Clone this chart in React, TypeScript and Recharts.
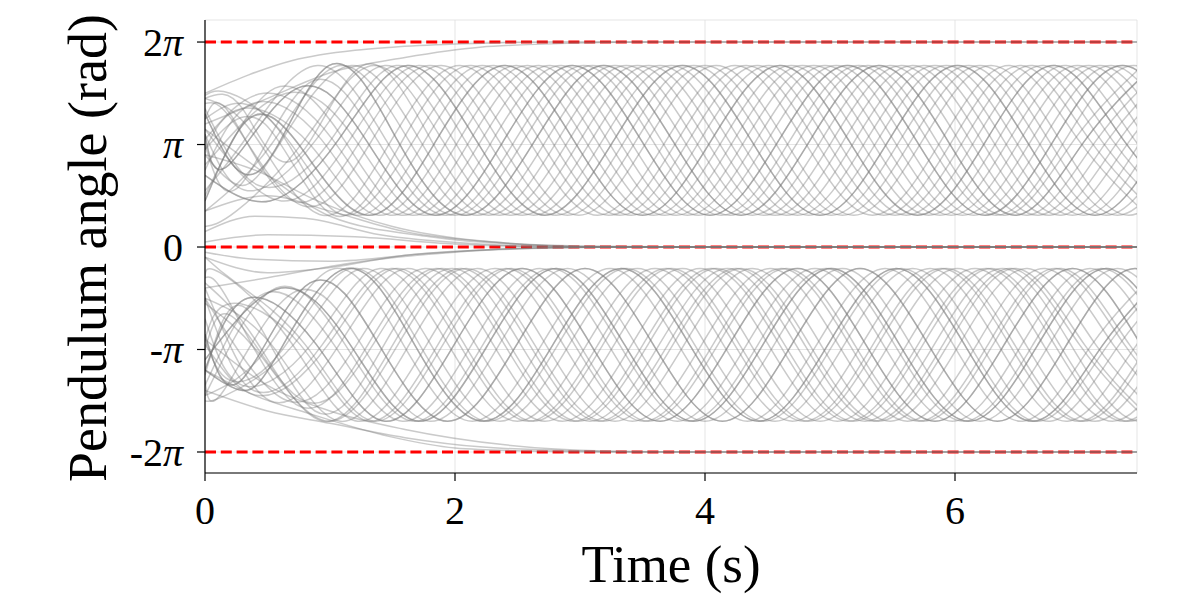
import React from 'react';
import { LineChart, Line, XAxis, YAxis, CartesianGrid } from 'recharts';

type Pt = [number, number];

// Time axis (s) and angle axis (units of π)
const X_TICKS = [0, 2, 4, 6];
const Y_TICKS = [-2, -1, 0, 1, 2];
const Y_TICK_LABELS = ['-2π', '-π', '0', 'π', '2π'];
const X_DOMAIN: [number, number] = [0, 7.456];
const Y_DOMAIN: [number, number] = [-2.205, 2.215];
const LEVELS = [2, 0, -2];
const LEVEL_T = [0, 7.6];

// Upper band trajectories (oscillating around π)
const U01: Pt[] = [[0,0.55],[0.35,1.1],[0.90,1.77],[1.45,1.04],[2.00,0.31],[2.55,1.04],[3.10,1.77],[3.65,1.04],[4.20,0.31],[4.75,1.04],[5.30,1.77],[5.85,1.04],[6.40,0.31],[6.95,1.04],[7.50,1.77]];
const U02: Pt[] = [[0,1.45],[0.39,1.1],[0.94,0.31],[1.49,1.04],[2.04,1.77],[2.59,1.04],[3.14,0.31],[3.69,1.04],[4.24,1.77],[4.79,1.04],[5.34,0.31],[5.89,1.04],[6.44,1.77],[6.99,1.04],[7.54,0.31]];
const U03: Pt[] = [[0,1.3],[0.44,0.75],[0.99,1.77],[1.54,1.04],[2.09,0.31],[2.64,1.04],[3.19,1.77],[3.74,1.04],[4.29,0.31],[4.84,1.04],[5.39,1.77],[5.94,1.04],[6.49,0.31],[7.04,1.04],[7.59,1.77]];
const U04: Pt[] = [[0,0.95],[0.48,1.2],[1.03,0.31],[1.58,1.04],[2.13,1.77],[2.68,1.04],[3.23,0.31],[3.78,1.04],[4.33,1.77],[4.88,1.04],[5.43,0.31],[5.98,1.04],[6.53,1.77],[7.08,1.04],[7.63,0.31]];
const U05: Pt[] = [[0,0.35],[0.53,1.0],[1.08,1.77],[1.63,1.04],[2.18,0.31],[2.73,1.04],[3.28,1.77],[3.83,1.04],[4.38,0.31],[4.93,1.04],[5.48,1.77],[6.03,1.04],[6.58,0.31],[7.13,1.04],[7.68,1.77]];
const U06: Pt[] = [[0,1.25],[0.3,1.4],[0.67,1.0],[1.12,0.31],[1.67,1.04],[2.22,1.77],[2.77,1.04],[3.32,0.31],[3.87,1.04],[4.42,1.77],[4.97,1.04],[5.52,0.31],[6.07,1.04],[6.62,1.77],[7.17,1.04],[7.72,0.31]];
const U07: Pt[] = [[0,0.9],[0.3,0.6],[0.62,1.05],[1.17,1.77],[1.72,1.04],[2.27,0.31],[2.82,1.04],[3.37,1.77],[3.92,1.04],[4.47,0.31],[5.02,1.04],[5.57,1.77],[6.12,1.04],[6.67,0.31],[7.22,1.04],[7.77,1.77]];
const U08: Pt[] = [[0,1.48],[0.2,1.5],[0.66,1.05],[1.21,0.31],[1.76,1.04],[2.31,1.77],[2.86,1.04],[3.41,0.31],[3.96,1.04],[4.51,1.77],[5.06,1.04],[5.61,0.31],[6.16,1.04],[6.71,1.77],[7.26,1.04],[7.81,0.31]];
const U09: Pt[] = [[0,1.45],[0.3,1.35],[0.71,0.85],[1.26,1.77],[1.81,1.04],[2.36,0.31],[2.91,1.04],[3.46,1.77],[4.01,1.04],[4.56,0.31],[5.11,1.04],[5.66,1.77],[6.21,1.04],[6.76,0.31],[7.31,1.04],[7.86,1.77]];
const U10: Pt[] = [[0,0.45],[0.35,1.25],[0.75,1.0],[1.30,0.31],[1.85,1.04],[2.40,1.77],[2.95,1.04],[3.50,0.31],[4.05,1.04],[4.60,1.77],[5.15,1.04],[5.70,0.31],[6.25,1.04],[6.80,1.77],[7.35,1.04],[7.90,0.31]];
const U11: Pt[] = [[0,0.2],[0.25,0.35],[0.8,1.05],[1.35,1.77],[1.90,1.04],[2.45,0.31],[3.00,1.04],[3.55,1.77],[4.10,1.04],[4.65,0.31],[5.20,1.04],[5.75,1.77],[6.30,1.04],[6.85,0.31],[7.40,1.04],[7.95,1.77]];
const U12: Pt[] = [[0,0.95],[0.29,1.35],[0.84,1.0],[1.39,0.31],[1.94,1.04],[2.49,1.77],[3.04,1.04],[3.59,0.31],[4.14,1.04],[4.69,1.77],[5.24,1.04],[5.79,0.31],[6.34,1.04],[6.89,1.77],[7.44,1.04],[7.99,0.31]];
const U13: Pt[] = [[0,1.1],[0.34,0.55],[0.89,1.05],[1.44,1.77],[1.99,1.04],[2.54,0.31],[3.09,1.04],[3.64,1.77],[4.19,1.04],[4.74,0.31],[5.29,1.04],[5.84,1.77],[6.39,1.04],[6.94,0.31],[7.49,1.04]];
const U14: Pt[] = [[0,0.75],[0.38,1.4],[0.93,1.05],[1.48,0.31],[2.03,1.04],[2.58,1.77],[3.13,1.04],[3.68,0.31],[4.23,1.04],[4.78,1.77],[5.33,1.04],[5.88,0.31],[6.43,1.04],[6.98,1.77],[7.53,1.04]];
const U15: Pt[] = [[0,1.35],[0.43,0.6],[0.98,1.0],[1.53,1.77],[2.08,1.04],[2.63,0.31],[3.18,1.04],[3.73,1.77],[4.28,1.04],[4.83,0.31],[5.38,1.04],[5.93,1.77],[6.48,1.04],[7.03,0.31],[7.58,1.04]];
const U16: Pt[] = [[0,1.05],[0.47,1.5],[1.02,1.05],[1.57,0.31],[2.12,1.04],[2.67,1.77],[3.22,1.04],[3.77,0.31],[4.32,1.04],[4.87,1.77],[5.42,1.04],[5.97,0.31],[6.52,1.04],[7.07,1.77],[7.62,1.04]];
const U17: Pt[] = [[0,0.7],[0.52,0.45],[1.07,1.05],[1.62,1.77],[2.17,1.04],[2.72,0.31],[3.27,1.04],[3.82,1.77],[4.37,1.04],[4.92,0.31],[5.47,1.04],[6.02,1.77],[6.57,1.04],[7.12,0.31],[7.67,1.04]];
const U18: Pt[] = [[0,0.5],[0.56,1.55],[1.11,1.05],[1.66,0.31],[2.21,1.04],[2.76,1.77],[3.31,1.04],[3.86,0.31],[4.41,1.04],[4.96,1.77],[5.51,1.04],[6.06,0.31],[6.61,1.04],[7.16,1.77],[7.71,1.04]];
const U19: Pt[] = [[0,1.15],[0.61,0.45],[1.16,1.05],[1.71,1.77],[2.26,1.04],[2.81,0.31],[3.36,1.04],[3.91,1.77],[4.46,1.04],[5.01,0.31],[5.56,1.04],[6.11,1.77],[6.66,1.04],[7.21,0.31],[7.76,1.04]];
const U20: Pt[] = [[0,0.8],[0.65,1.5],[1.2,1.05],[1.75,0.31],[2.30,1.04],[2.85,1.77],[3.40,1.04],[3.95,0.31],[4.50,1.04],[5.05,1.77],[5.60,1.04],[6.15,0.31],[6.70,1.04],[7.25,1.77],[7.80,1.04]];
const U21: Pt[] = [[0,1.25],[0.2,1.3],[0.7,0.45],[1.25,1.05],[1.80,1.77],[2.35,1.04],[2.90,0.31],[3.45,1.04],[4.00,1.77],[4.55,1.04],[5.10,0.31],[5.65,1.04],[6.20,1.77],[6.75,1.04],[7.30,0.31],[7.85,1.04]];
const U22: Pt[] = [[0,1.1],[0.19,0.8],[0.74,1.55],[1.29,1.04],[1.84,0.31],[2.39,1.04],[2.94,1.77],[3.49,1.04],[4.04,0.31],[4.59,1.04],[5.14,1.77],[5.69,1.04],[6.24,0.31],[6.79,1.04],[7.34,1.77],[7.89,1.04]];
const U23: Pt[] = [[0,1.4],[0.24,1.2],[0.79,0.4],[1.34,1.05],[1.89,1.77],[2.44,1.04],[2.99,0.31],[3.54,1.04],[4.09,1.77],[4.64,1.04],[5.19,0.31],[5.74,1.04],[6.29,1.77],[6.84,1.04],[7.39,0.31],[7.94,1.04]];
const U24: Pt[] = [[0,1.0],[0.28,0.6],[0.83,1.6],[1.38,1.04],[1.93,0.31],[2.48,1.04],[3.03,1.77],[3.58,1.04],[4.13,0.31],[4.68,1.04],[5.23,1.77],[5.78,1.04],[6.33,0.31],[6.88,1.04],[7.43,1.77],[7.98,1.04]];

// Lower band trajectories (oscillating around -π)
const L01: Pt[] = [[0,-0.35],[0.40,-0.9],[0.95,-1.70],[1.50,-0.96],[2.05,-0.21],[2.60,-0.96],[3.15,-1.70],[3.70,-0.96],[4.25,-0.21],[4.80,-0.96],[5.35,-1.70],[5.90,-0.96],[6.45,-0.21],[7.00,-0.96],[7.55,-1.70]];
const L02: Pt[] = [[0,-0.55],[0.44,-1.05],[0.99,-1.70],[1.54,-0.96],[2.09,-0.21],[2.64,-0.96],[3.19,-1.70],[3.74,-0.96],[4.29,-0.21],[4.84,-0.96],[5.39,-1.70],[5.94,-0.96],[6.49,-0.21],[7.04,-0.96],[7.59,-1.70]];
const L03: Pt[] = [[0,-1.45],[0.49,-1.0],[1.04,-0.21],[1.59,-0.96],[2.14,-1.70],[2.69,-0.96],[3.24,-0.21],[3.79,-0.96],[4.34,-1.70],[4.89,-0.96],[5.44,-0.21],[5.99,-0.96],[6.54,-1.70],[7.09,-0.96],[7.64,-0.21]];
const L04: Pt[] = [[0,-0.5],[0.53,-0.95],[1.08,-1.70],[1.63,-0.96],[2.18,-0.21],[2.73,-0.96],[3.28,-1.70],[3.83,-0.96],[4.38,-0.21],[4.93,-0.96],[5.48,-1.70],[6.03,-0.96],[6.58,-0.21],[7.13,-0.96],[7.68,-1.70]];
const L05: Pt[] = [[0,-1.2],[0.3,-1.4],[0.58,-1.05],[1.13,-0.21],[1.68,-0.96],[2.23,-1.70],[2.78,-0.96],[3.33,-0.21],[3.88,-0.96],[4.43,-1.70],[4.98,-0.96],[5.53,-0.21],[6.08,-0.96],[6.63,-1.70],[7.18,-0.96],[7.73,-0.21]];
const L06: Pt[] = [[0,-0.9],[0.2,-1.3],[0.62,-1.0],[1.17,-0.21],[1.72,-0.96],[2.27,-1.70],[2.82,-0.96],[3.37,-0.21],[3.92,-0.96],[4.47,-1.70],[5.02,-0.96],[5.57,-0.21],[6.12,-0.96],[6.67,-1.70],[7.22,-0.96],[7.77,-0.21]];
const L07: Pt[] = [[0,-0.3],[0.12,-0.25],[0.67,-0.9],[1.22,-1.70],[1.77,-0.96],[2.32,-0.21],[2.87,-0.96],[3.42,-1.70],[3.97,-0.96],[4.52,-0.21],[5.07,-0.96],[5.62,-1.70],[6.17,-0.96],[6.72,-0.21],[7.27,-0.96],[7.82,-1.70]];
const L08: Pt[] = [[0,-1.5],[0.16,-1.45],[0.71,-0.95],[1.26,-0.21],[1.81,-0.96],[2.36,-1.70],[2.91,-0.96],[3.46,-0.21],[4.01,-0.96],[4.56,-1.70],[5.11,-0.96],[5.66,-0.21],[6.21,-0.96],[6.76,-1.70],[7.31,-0.96],[7.86,-0.21]];
const L09: Pt[] = [[0,-0.9],[0.21,-0.55],[0.76,-0.95],[1.31,-1.70],[1.86,-0.96],[2.41,-0.21],[2.96,-0.96],[3.51,-1.70],[4.06,-0.96],[4.61,-0.21],[5.16,-0.96],[5.71,-1.70],[6.26,-0.96],[6.81,-0.21],[7.36,-0.96],[7.91,-1.70]];
const L10: Pt[] = [[0,-0.1],[0.25,-0.35],[0.80,-0.95],[1.35,-1.70],[1.90,-0.96],[2.45,-0.21],[3.00,-0.96],[3.55,-1.70],[4.10,-0.96],[4.65,-0.21],[5.20,-0.96],[5.75,-1.70],[6.30,-0.96],[6.85,-0.21],[7.40,-0.96],[7.95,-1.70]];
const L11: Pt[] = [[0,-0.7],[0.30,-1.35],[0.85,-0.95],[1.40,-0.21],[1.95,-0.96],[2.50,-1.70],[3.05,-0.96],[3.60,-0.21],[4.15,-0.96],[4.70,-1.70],[5.25,-0.96],[5.80,-0.21],[6.35,-0.96],[6.90,-1.70],[7.45,-0.96],[8.00,-0.21]];
const L12: Pt[] = [[0,-1.2],[0.34,-0.5],[0.89,-0.95],[1.44,-1.70],[1.99,-0.96],[2.54,-0.21],[3.09,-0.96],[3.64,-1.70],[4.19,-0.96],[4.74,-0.21],[5.29,-0.96],[5.84,-1.70],[6.39,-0.96],[6.94,-0.21],[7.49,-0.96]];
const L13: Pt[] = [[0,-0.5],[0.39,-1.4],[0.94,-0.95],[1.49,-0.21],[2.04,-0.96],[2.59,-1.70],[3.14,-0.96],[3.69,-0.21],[4.24,-0.96],[4.79,-1.70],[5.34,-0.96],[5.89,-0.21],[6.44,-0.96],[6.99,-1.70],[7.54,-0.96]];
const L14: Pt[] = [[0,-0.95],[0.43,-1.45],[0.98,-0.96],[1.53,-0.21],[2.08,-0.96],[2.63,-1.70],[3.18,-0.96],[3.73,-0.21],[4.28,-0.96],[4.83,-1.70],[5.38,-0.96],[5.93,-0.21],[6.48,-0.96],[7.03,-1.70],[7.58,-0.96]];
const L15: Pt[] = [[0,-1.35],[0.48,-0.45],[1.03,-0.95],[1.58,-1.70],[2.13,-0.96],[2.68,-0.21],[3.23,-0.96],[3.78,-1.70],[4.33,-0.96],[4.88,-0.21],[5.43,-0.96],[5.98,-1.70],[6.53,-0.96],[7.08,-0.21],[7.63,-0.96]];
const L16: Pt[] = [[0,-0.4],[0.52,-1.5],[1.07,-0.96],[1.62,-0.21],[2.17,-0.96],[2.72,-1.70],[3.27,-0.96],[3.82,-0.21],[4.37,-0.96],[4.92,-1.70],[5.47,-0.96],[6.02,-0.21],[6.57,-0.96],[7.12,-1.70],[7.67,-0.96]];
const L17: Pt[] = [[0,-1.45],[0.57,-0.4],[1.12,-0.95],[1.67,-1.70],[2.22,-0.96],[2.77,-0.21],[3.32,-0.96],[3.87,-1.70],[4.42,-0.96],[4.97,-0.21],[5.52,-0.96],[6.07,-1.70],[6.62,-0.96],[7.17,-0.21],[7.72,-0.96]];
const L18: Pt[] = [[0,-1.1],[0.61,-0.4],[1.16,-0.95],[1.71,-1.70],[2.26,-0.96],[2.81,-0.21],[3.36,-0.96],[3.91,-1.70],[4.46,-0.96],[5.01,-0.21],[5.56,-0.96],[6.11,-1.70],[6.66,-0.96],[7.21,-0.21],[7.76,-0.96]];
const L19: Pt[] = [[0,-0.5],[0.66,-1.5],[1.21,-0.96],[1.76,-0.21],[2.31,-0.96],[2.86,-1.70],[3.41,-0.96],[3.96,-0.21],[4.51,-0.96],[5.06,-1.70],[5.61,-0.96],[6.16,-0.21],[6.71,-0.96],[7.26,-1.70],[7.81,-0.96]];
const L20: Pt[] = [[0,-1.3],[0.15,-1.4],[0.70,-0.45],[1.25,-0.95],[1.80,-1.70],[2.35,-0.96],[2.90,-0.21],[3.45,-0.96],[4.00,-1.70],[4.55,-0.96],[5.10,-0.21],[5.65,-0.96],[6.20,-1.70],[6.75,-0.96],[7.30,-0.21],[7.85,-0.96]];
const L21: Pt[] = [[0,-0.3],[0.20,-0.55],[0.75,-1.55],[1.30,-0.96],[1.85,-0.21],[2.40,-0.96],[2.95,-1.70],[3.50,-0.96],[4.05,-0.21],[4.60,-0.96],[5.15,-1.70],[5.70,-0.96],[6.25,-0.21],[6.80,-0.96],[7.35,-1.70],[7.90,-0.96]];
const L22: Pt[] = [[0,-1.0],[0.24,-0.7],[0.79,-1.5],[1.34,-0.96],[1.89,-0.21],[2.44,-0.96],[2.99,-1.70],[3.54,-0.96],[4.09,-0.21],[4.64,-0.96],[5.19,-1.70],[5.74,-0.96],[6.29,-0.21],[6.84,-0.96],[7.39,-1.70],[7.94,-0.96]];
const L23: Pt[] = [[0,-0.85],[0.29,-1.3],[0.84,-0.35],[1.39,-0.95],[1.94,-1.70],[2.49,-0.96],[3.04,-0.21],[3.59,-0.96],[4.14,-1.70],[4.69,-0.96],[5.24,-0.21],[5.79,-0.96],[6.34,-1.70],[6.89,-0.96],[7.44,-0.21],[7.99,-0.96]];
const L24: Pt[] = [[0,-1.25],[0.33,-0.6],[0.88,-1.6],[1.43,-0.96],[1.98,-0.21],[2.53,-0.96],[3.08,-1.70],[3.63,-0.96],[4.18,-0.21],[4.73,-0.96],[5.28,-1.70],[5.83,-0.96],[6.38,-0.21],[6.93,-0.96],[7.48,-1.70],[8.03,-0.96]];

// Trajectories settling at the upright positions (0, 2π, -2π)
const Z1: Pt[] = [[0,0.9],[0.4,0.75],[0.9,0.45],[1.5,0.2],[2.2,0.06],[3.0,0.01],[4.0,0],[7.6,0]];
const Z2: Pt[] = [[0,0.35],[0.5,0.5],[1.0,0.35],[1.6,0.15],[2.4,0.04],[3.2,0],[7.6,0]];
const Z3: Pt[] = [[0,1.15],[0.5,0.7],[1.0,0.3],[1.8,0.1],[2.6,0.02],[3.4,0],[7.6,0]];
const Z4: Pt[] = [[0,0.15],[0.4,0.3],[0.8,0.28],[1.4,0.12],[2.2,0.03],[3.0,0],[7.6,0]];
const Z5: Pt[] = [[0,-0.1],[0.5,-0.25],[1.0,-0.2],[1.6,-0.08],[2.4,-0.02],[3.2,0],[7.6,0]];
const Z6: Pt[] = [[0,-0.4],[0.5,-0.3],[1.2,-0.15],[2.0,-0.05],[2.8,-0.01],[3.6,0],[7.6,0]];
const Z7: Pt[] = [[0,-0.05],[0.4,-0.12],[1.0,-0.14],[1.8,-0.06],[2.6,-0.01],[3.4,0],[7.6,0]];
const Z8: Pt[] = [[0,0.05],[0.5,0.12],[1.2,0.1],[2.0,0.03],[3.0,0],[7.6,0]];
const W1: Pt[] = [[0,1.5],[0.35,1.68],[0.7,1.82],[1.2,1.92],[1.5,1.95],[2.0,1.98],[2.8,2.0],[7.6,2.0]];
const W2: Pt[] = [[0,1.2],[0.5,1.45],[1.0,1.7],[1.6,1.85],[2.2,1.95],[3.0,1.99],[3.6,2.0],[7.6,2.0]];
const M1: Pt[] = [[0,-1.2],[0.4,-1.45],[0.82,-1.62],[1.48,-1.85],[2.0,-1.96],[2.6,-1.99],[3.2,-2.0],[7.6,-2.0]];
const M2: Pt[] = [[0,-1.4],[0.5,-1.6],[1.0,-1.72],[1.6,-1.86],[2.2,-1.95],[3.0,-1.99],[3.6,-2.0],[7.6,-2.0]];
const M3: Pt[] = [[0,-0.9],[0.5,-1.35],[1.0,-1.6],[1.6,-1.78],[2.4,-1.93],[3.2,-1.99],[4.0,-2.0],[7.6,-2.0]];

// Runs that ended up on (nearly) the same trajectory as another run draw twice
const OSCILLATING: Pt[][] = [
  U01, U02, U03, U04, U05, U06, U07, U08, U09, U10, U11, U12,
  U13, U14, U15, U16, U17, U18, U19, U20, U21, U22, U23, U24,
  L01, L02, L03, L04, L05, L06, L07, L08, L09, L10, L11, L12,
  L13, L14, L15, L16, L17, L18, L19, L20, L21, L22, L23, L24,
  U03, U10, U17, U22, L05, L12, L18, L23,
];
const SETTLING: Pt[][] = [Z1, Z2, Z3, Z4, Z5, Z6, Z7, Z8, W1, W2, M1, M2, M3];

const FONT = '"Liberation Serif", "DejaVu Serif", serif';
const toRows = (pts: Pt[]) => pts.map(([t, v]) => ({ t, v }));

const YTick = (props: any) => {
  const { x, y, payload } = props;
  const label = Y_TICK_LABELS[Y_TICKS.indexOf(payload.value)] ?? String(payload.value);
  const parts = label.split('π');
  return (
    <text x={x} y={y} dy="0.34em" textAnchor="end" fontSize={40} fontFamily={FONT} fill="#000">
      {parts[0]}
      {label.includes('π') ? <tspan fontStyle="italic">π</tspan> : null}
    </text>
  );
};

const XTick = (props: any) => {
  const { x, y, payload } = props;
  return (
    <text x={x} y={y} dy="0.72em" textAnchor="middle" fontSize={40} fontFamily={FONT} fill="#000">
      {String(payload.value)}
    </text>
  );
};

const XTitle = () => (
  <text x={663} y={574} textAnchor="middle" fontSize={53} fontFamily={FONT} fill="#000">
    Time (s)
  </text>
);

const YTitle = () => (
  <text
    x={80}
    y={240}
    transform="rotate(-90 80 240)"
    textAnchor="middle"
    dominantBaseline="central"
    fontSize={54}
    fontFamily={FONT}
    fill="#000"
  >
    Pendulum angle (rad)
  </text>
);

const GRAY = '#7a7a7a';

export default function App() {
  return (
    <LineChart width={1180} height={588} margin={{ top: 12, right: 51, bottom: 0, left: 0 }}>
      <CartesianGrid stroke="#dedede" strokeWidth={0.8} />
      <XAxis
        type="number"
        dataKey="t"
        domain={X_DOMAIN}
        ticks={X_TICKS}
        allowDataOverflow
        height={123}
        tickSize={8}
        tickMargin={14}
        tick={<XTick />}
        axisLine={{ stroke: '#000', strokeWidth: 1.2 }}
        tickLine={{ stroke: '#000', strokeWidth: 1.2 }}
        label={<XTitle />}
      />
      <XAxis
        xAxisId="top"
        orientation="top"
        type="number"
        dataKey="t"
        domain={X_DOMAIN}
        allowDataOverflow
        height={0}
        tick={false}
        tickLine={false}
        axisLine={{ stroke: '#000', strokeWidth: 1.2 }}
      />
      <YAxis
        type="number"
        domain={Y_DOMAIN}
        ticks={Y_TICKS}
        allowDataOverflow
        width={197}
        tickSize={8}
        tickMargin={14}
        tick={<YTick />}
        axisLine={{ stroke: '#000', strokeWidth: 1.2 }}
        tickLine={{ stroke: '#000', strokeWidth: 1.2 }}
        label={<YTitle />}
      />
      <YAxis
        yAxisId="right"
        orientation="right"
        type="number"
        domain={Y_DOMAIN}
        allowDataOverflow
        width={0}
        tick={false}
        tickLine={false}
        axisLine={{ stroke: '#000', strokeWidth: 1.2 }}
      />
      {LEVELS.map((lv) => (
        <Line
          key={`lvl${lv}`}
          data={LEVEL_T.map((t) => ({ t, v: lv }))}
          dataKey="v"
          type="linear"
          stroke="#ff0000"
          strokeWidth={3}
          strokeDasharray="11 4.8"
          dot={false}
          activeDot={false}
          isAnimationActive={false}
        />
      ))}
      {OSCILLATING.map((pts, i) => (
        <Line
          key={`osc${i}`}
          data={toRows(pts)}
          dataKey="v"
          type="natural"
          stroke={GRAY}
          strokeOpacity={0.4}
          strokeWidth={1.5}
          dot={false}
          activeDot={false}
          isAnimationActive={false}
        />
      ))}
      {SETTLING.map((pts, i) => (
        <Line
          key={`set${i}`}
          data={toRows(pts)}
          dataKey="v"
          type="monotone"
          stroke={GRAY}
          strokeOpacity={0.4}
          strokeWidth={1.5}
          dot={false}
          activeDot={false}
          isAnimationActive={false}
        />
      ))}
    </LineChart>
  );
}
